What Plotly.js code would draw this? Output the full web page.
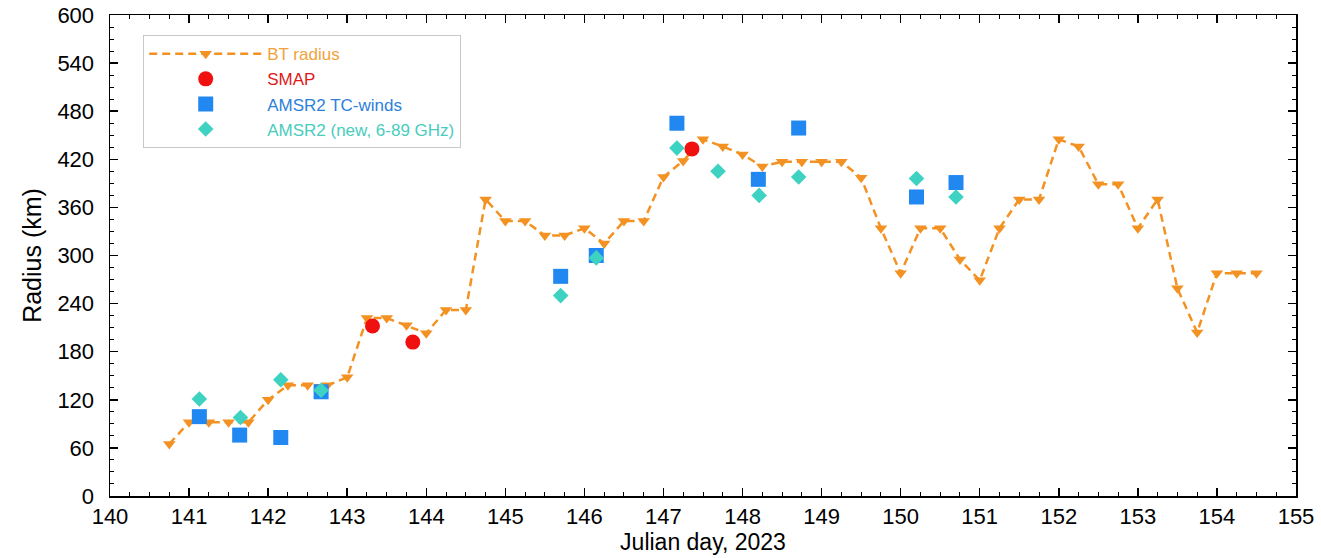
<!DOCTYPE html>
<html>
<head>
<meta charset="utf-8">
<script src="https://cdn.plot.ly/plotly-3.0.1.min.js"></script>
<style>html,body{margin:0;padding:0;background:#fff;}#chart{width:1321px;height:558px;}</style>
</head>
<body>
<div id="chart"></div>
<script>
// Best-track radius (every 6 h)
const btDay = [140.75,141.0,141.25,141.5,141.75,142.0,142.25,142.5,142.75,143.0,143.25,143.5,143.75,144.0,144.25,144.5,144.75,145.0,145.25,145.5,145.75,146.0,146.25,146.5,146.75,147.0,147.25,147.5,147.75,148.0,148.25,148.5,148.75,149.0,149.25,149.5,149.75,150.0,150.25,150.5,150.75,151.0,151.25,151.5,151.75,152.0,152.25,152.5,152.75,153.0,153.25,153.5,153.75,154.0,154.25,154.5];
const btRadius = [65,92,92,92,92,120,138,138,138,148,222,222,213,203,232,232,370,343,343,325,325,334,315,343,343,398,418,445,436,426,411,417,417,417,417,397,334,278,334,334,295,269,334,370,370,445,436,389,389,334,370,259,204,278,278,278];

// SMAP
const smapDay = [143.32,143.83,147.36];
const smapRadius = [212,192,433];

// AMSR2 TC-winds
const tcDay = [141.13,141.64,142.16,142.67,145.70,146.15,147.17,148.20,148.71,150.20,150.70];
const tcRadius = [99,76,73,130,274,300,465,395,459,373,391];

// AMSR2 (new, 6-89 GHz)
const newDay = [141.13,141.65,142.16,142.67,145.70,146.15,147.17,147.69,148.21,148.71,150.20,150.70];
const newRadius = [121,98,145,132,250,297,434,405,375,398,396,373];

const xTicks = [140,141,142,143,144,145,146,147,148,149,150,151,152,153,154,155];
const yTicks = [0,60,120,180,240,300,360,420,480,540,600];

const cOrange = '#F39222', cRed = '#F01010', cBlue = '#2088F0', cTeal = '#3ED2C2';
const FONT = 'Liberation Sans, Arial, Helvetica, sans-serif';

const traces = [
  {x: btDay, y: btRadius, mode: 'lines+markers', name: '<span style="color:#F2A23A">BT radius</span>',
   line: {color: cOrange, width: 2.5, dash: '8px,5px'},
   marker: {symbol: 'triangle-down', size: 11, color: cOrange}},
  {x: smapDay, y: smapRadius, mode: 'markers', name: '<span style="color:#E01818">SMAP</span>',
   marker: {symbol: 'circle', size: 15, color: cRed}},
  {x: tcDay, y: tcRadius, mode: 'markers', name: '<span style="color:#2C80DC">AMSR2 TC-winds</span>',
   marker: {symbol: 'square', size: 15, color: cBlue}},
  {x: newDay, y: newRadius, mode: 'markers', name: '<span style="color:#48CDBD">AMSR2 (new, 6-89 GHz)</span>',
   marker: {symbol: 'diamond', size: 12, color: cTeal}}
];

const axisCommon = {
  showline: true, linecolor: '#000', linewidth: 1.5, mirror: 'ticks',
  ticks: 'inside', ticklen: 8, tickwidth: 1.5, tickcolor: '#000',
  showgrid: false, zeroline: false,
  tickfont: {family: FONT, size: 22, color: '#000'}
};

const layout = {
  width: 1321, height: 558,
  margin: {l: 110, r: 25, t: 15, b: 62},
  paper_bgcolor: '#fff', plot_bgcolor: '#fff',
  font: {family: FONT, color: '#000'},
  xaxis: Object.assign({}, axisCommon, {
    range: [140, 155], tickvals: xTicks, ticktext: xTicks.map(String),
    minor: {dtick: 0.25, tick0: 140, ticks: 'inside', ticklen: 4, tickcolor: '#000', tickwidth: 1},
    ticklabelstandoff: 0,
    title: {text: 'Julian day, 2023', font: {size: 23, color: '#000'}, standoff: 4}
  }),
  yaxis: Object.assign({}, axisCommon, {
    range: [0, 600], tickvals: yTicks, ticktext: yTicks.map(String),
    minor: {dtick: 15, tick0: 0, ticks: 'inside', ticklen: 4, tickcolor: '#000', tickwidth: 1},
    ticklabelstandoff: 10,
    title: {text: 'Radius (km)', font: {size: 25, color: '#000'}, standoff: 8}
  }),
  showlegend: true,
  legend: {
    x: 0.028, y: 0.958, xanchor: 'left', yanchor: 'top',
    bgcolor: '#fff', bordercolor: '#C8C8C8', borderwidth: 1,
    font: {size: 17, family: FONT},
    itemwidth: 113, tracegroupgap: 0, traceorder: 'normal',
    entrywidth: 360, entrywidthmode: 'pixels'
  }
};

Plotly.newPlot('chart', traces, layout, {displayModeBar: false, staticPlot: true});
</script>
</body>
</html>
